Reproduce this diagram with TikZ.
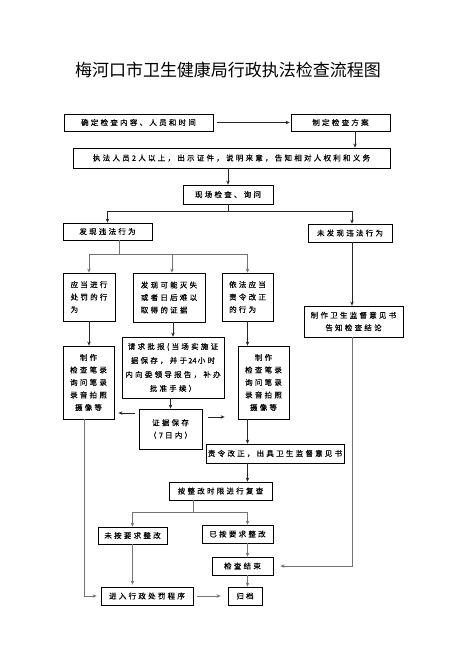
\documentclass[tikz,border=0pt]{standalone}
\usepackage{fontspec}
\newfontfamily\titlefont{Noto Sans CJK SC}
\newfontfamily\boxfont[LetterSpace=30, FakeBold=0.4]{Noto Sans CJK SC}
\newfontfamily\numfont[FakeBold=0.4]{Noto Sans CJK SC}
\usetikzlibrary{arrows.meta, positioning, calc}

\begin{document}
\begin{tikzpicture}[
    x=1pt, y=-1pt,
    box/.style={rectangle, draw, line width=0.8pt, inner sep=0pt, font=\boxfont\fontsize{7.5}{12.5}\selectfont, align=center},
    lbox/.style={box, align=left},
    >={Stealth[length=4pt, width=3.5pt]},
    line/.style={->, draw=black!85, line width=0.7pt},
    gline/.style={->, draw=black!55, line width=0.9pt}
]
\useasboundingbox (0,0) rectangle (451,649);

\node[font=\titlefont\fontsize{17}{17}\selectfont] (title) at (228,69.5) {梅河口市卫生健康局行政执法检查流程图};

% upper part
\node[box, minimum width=149pt, minimum height=17pt] (queding) at (138.5,122.5) {确定检查内容、人员和时间};
\node[box, minimum width=99pt, minimum height=17pt] (fangan) at (340.5,122.5) {制定检查方案};
\node[box, minimum width=317pt, minimum height=20pt] (zhifa) at (231.5,158) {执法人员2人以上，出示证件，说明来意，告知相对人权利和义务};
\node[box, minimum width=90pt, minimum height=19pt] (xianchang) at (228,194.5) {现场检查、询问};
\node[box, minimum width=89pt, minimum height=17pt] (faxian) at (107.5,231.5) {发现违法行为};
\node[box, minimum width=84pt, minimum height=18pt] (weifaxian) at (350,233) {未发现违法行为};

% three kinds of findings
\node[lbox, minimum width=52pt, minimum height=48pt] (chufa) at (89,297) {应当进行\\处罚的行\\为};
\node[lbox, minimum width=72pt, minimum height=49pt] (zhengju) at (169,297.5) {发现可能灭失\\或者日后难以\\取得的证据};
\node[lbox, minimum width=51pt, minimum height=48pt] (gaizheng) at (247.5,297) {依法应当\\责令改正\\的行为};
\node[box, minimum width=99pt, minimum height=31pt] (yijianshu) at (353.5,321.5) {制作卫生监督意见书\\告知检查结论};

\node[box, minimum width=51pt, minimum height=73pt] (zhizuoL) at (88.5,382.5) {制作\\检查笔录\\询问笔录\\录音拍照\\摄像等};
\node[box, minimum width=102pt, minimum height=61pt, font=\boxfont\fontsize{7.5}{14}\selectfont] (qingqiu) at (173,367.5) {请求批报(当场实施证\\据保存，并于\,{\numfont 24}\,小时\\内向委领导报告，补办\\批准手续）};
\node[box, minimum width=63pt, minimum height=40pt] (baocun) at (170.5,429) {证据保存\\（7日内）};
\node[box, minimum width=51pt, minimum height=73pt] (zhizuoR) at (263.5,382.5) {制作\\检查笔录\\询问笔录\\录音拍照\\摄像等};

% lower part
\node[box, minimum width=138pt, minimum height=19pt] (zeling) at (275,453.5) {责令改正，出具卫生监督意见书};
\node[box, minimum width=103pt, minimum height=18pt] (fucha) at (220.5,491) {按整改时限进行复查};
\node[box, minimum width=69pt, minimum height=17pt] (weian) at (132.5,535.5) {未按要求整改};
\node[box, minimum width=71pt, minimum height=18pt] (yian) at (237.5,534) {已按要求整改};
\node[box, minimum width=61pt, minimum height=18pt] (jieshu) at (242.5,566) {检查结束};
\node[box, minimum width=92pt, minimum height=18pt] (jinru) at (147,596) {进入行政处罚程序};
\node[box, minimum width=34pt, minimum height=18pt] (guidang) at (245,596) {归档};

\draw[line, shorten <=4pt, shorten >=1pt] (queding) -- (fangan);
\draw[line] ([xshift=14.5pt]fangan.south) -- ([xshift=14.5pt]fangan.south |- zhifa.north);
\draw[line] (xianchang.north |- zhifa.south) -- (xianchang.north);
\draw[line] (xianchang.south) -- ++(0,6.5) -| (faxian.north);
\draw[line] (xianchang.south) -- ++(0,6.5) -| ([xshift=2pt]weifaxian.north);
\draw[gline] ([xshift=11.5pt]faxian.south) -- ++(0,14) -| (chufa.north);
\draw[gline] ([xshift=11.5pt]faxian.south) -- ++(0,14) -| ([xshift=3pt]zhengju.north);
\draw[gline] ([xshift=11.5pt]faxian.south) -- ++(0,14) -| (gaizheng.north);
\draw[line] ([xshift=2pt]weifaxian.south) -- ([xshift=2pt]weifaxian.south |- yijianshu.north);
\draw[gline, shorten >=7pt] ([xshift=-1.5pt]yijianshu.south) |- (jieshu.east);

\draw[line] (chufa.south) -- (chufa.south |- zhizuoL.north);
\draw[line] (qingqiu.north |- zhengju.south) -- (qingqiu.north);
\draw[line] (baocun.north |- qingqiu.south) -- (baocun.north);
\draw[line] (gaizheng.south) -- (gaizheng.south |- zhizuoR.north);
\draw[line, shorten <=4pt, shorten >=4pt] ([yshift=16pt]baocun.west) -- ([yshift=16pt]baocun.west -| zhizuoL.east);
\draw[line, shorten <=6pt, shorten >=13pt] ([yshift=12pt]baocun.east) -- ([yshift=12pt]baocun.east -| zhizuoR.west);
\draw[line] (zhizuoR.south -| gaizheng.south) -- (zeling.north -| gaizheng.south);
\draw[line] (zeling.south -| gaizheng.south) -- (fucha.north -| gaizheng.south);

\draw[gline] ([xshift=-27.5pt]fucha.south) -- ++(0,12) -| (weian.north);
\draw[gline] ([xshift=-27.5pt]fucha.south) -- ++(0,12) -| (yian.north -| gaizheng.south);
\draw[gline] (yian.south -| gaizheng.south) -- (jieshu.north -| gaizheng.south);
\draw[gline] (jieshu.south -| gaizheng.south) -- (guidang.north -| gaizheng.south);
\draw[gline, shorten >=2pt] (weian.south) -- (weian.south |- jinru.north);
\draw[gline, shorten >=4pt] ([xshift=-4.5pt]zhizuoL.south) |- (jinru.west);
\draw[gline, shorten <=4pt, shorten >=7pt] (jinru.east) -- (guidang.west);
\end{tikzpicture}
\end{document}
